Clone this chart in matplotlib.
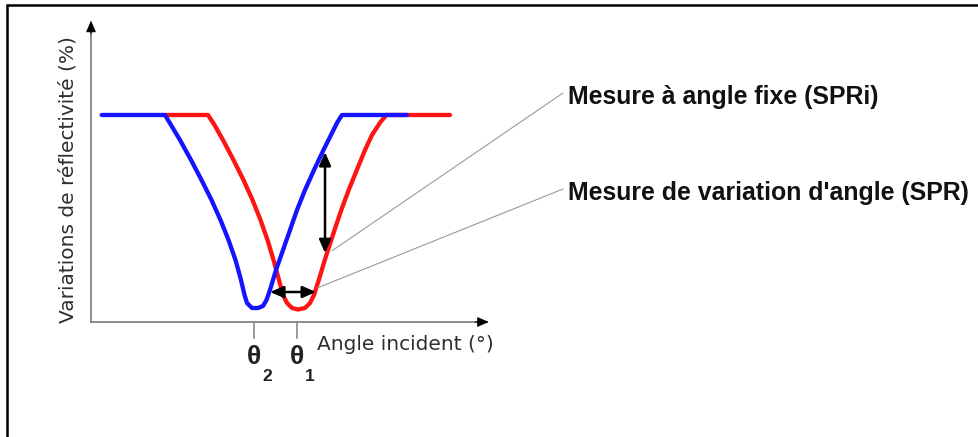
import matplotlib
matplotlib.use("Agg")
import matplotlib.pyplot as plt
from matplotlib.patches import Rectangle

W, H = 979, 437

# reflectivity curves (angle in arbitrary units, reflectivity in %)
blue_angle = [2.73, 18.88, 20.41, 22.70, 25.51, 28.19, 30.74, 33.04, 35.08,
              36.86, 38.27, 39.16, 39.80, 41.07, 42.60, 43.88, 44.77, 45.66,
              47.19, 48.98, 50.77, 52.55, 54.59, 56.89, 59.31, 61.22, 62.88,
              64.03, 80.54]
blue_refl = [69.70, 69.70, 66.33, 61.28, 54.55, 47.81, 41.08, 34.34, 27.61,
             20.88, 14.14, 9.09, 6.40, 4.71, 4.71, 5.39, 7.41, 10.77,
             17.51, 24.24, 30.98, 37.71, 44.44, 51.18, 57.91, 62.96, 67.34,
             69.70, 69.70]

red_angle = [18.88, 29.85, 31.51, 33.67, 36.35, 38.90, 41.20, 43.24, 45.03,
             46.56, 47.96, 48.98, 50.00, 51.28, 52.81, 54.59, 55.87, 56.89,
             58.11, 59.64, 60.46, 62.12, 63.85, 65.74, 67.81, 69.90, 71.68,
             73.85, 75.38, 91.58]
red_refl = [69.70, 69.70, 66.33, 61.28, 54.55, 47.81, 41.08, 34.34, 27.61,
            20.88, 14.14, 9.09, 6.40, 4.71, 4.21, 4.71, 6.40, 9.09,
            14.14, 20.88, 24.24, 30.98, 37.71, 44.44, 51.18, 57.91, 62.96,
            67.34, 69.70, 69.70]

theta_pos = [41.6, 52.6]
theta_sub = ["2", "1"]

# fixed-angle shift (vertical) and angle shift (horizontal)
fixed_x, fixed_y = 59.7, (57.2, 23.2)
shift_y, shift_x = 10.1, (45.7, 57.4)

labels = ["Mesure à angle fixe (SPRi)", "Mesure de variation d'angle (SPR)"]
label_from = [(61.5, 24.0), (57.6, 11.4)]
label_px = [(568, 97), (568, 193)]

fig = plt.figure(figsize=(W / 100, H / 100), dpi=100)
fig.patch.set_facecolor("white")

# outer frame
fig.patches.append(Rectangle((7.5 / W, -0.05), 1.1, 1 - 4.5 / H + 0.05,
                             transform=fig.transFigure, fill=False,
                             edgecolor="black", lw=1.8, clip_on=False))

ax = fig.add_axes([91 / W, (H - 322) / H, 392 / W, 297 / H])
ax.set_xlim(0, 100)
ax.set_ylim(0, 100)
ax.axis("off")

# axes with arrow heads
axis_col = "#7a7a7a"
ax.plot([0, 100], [0, 0], color=axis_col, lw=1.2, clip_on=False)
ax.plot([0, 0], [0, 100], color=axis_col, lw=1.2, clip_on=False)
head = dict(arrowstyle="-|>,head_length=0.7,head_width=0.3", color="black",
            lw=0.8, shrinkA=0, shrinkB=0)
ax.annotate("", xy=(101.5, 0), xytext=(98, 0), arrowprops=head,
            annotation_clip=False)
ax.annotate("", xy=(0, 101.5), xytext=(0, 97), arrowprops=head,
            annotation_clip=False)

ax.plot(red_angle, red_refl, color="#ff1414", lw=3.1,
        solid_joinstyle="round", solid_capstyle="round", clip_on=False)
ax.plot(blue_angle, blue_refl, color="#1414ff", lw=3.1,
        solid_joinstyle="round", solid_capstyle="round", clip_on=False)

# theta markers below the x axis
for x, s in zip(theta_pos, theta_sub):
    ax.plot([x, x], [0, -5.5], color="#8a8a8a", lw=1.2, clip_on=False)
    ax.text(x, -11.8, "θ", fontsize=19, fontweight="bold", ha="center",
            va="center", color="#222222", family="Liberation Sans")
    ax.text(x + 3.3, -18.4, s, fontsize=12.5, fontweight="bold",
            ha="center", va="center", color="#222222",
            family="Liberation Sans")

dbl = dict(arrowstyle="<|-|>,head_length=0.8,head_width=0.35",
           color="black", lw=1.8, shrinkA=0, shrinkB=0)
ax.annotate("", xy=(fixed_x, fixed_y[0]), xytext=(fixed_x, fixed_y[1]),
            arrowprops=dbl)
ax.annotate("", xy=(shift_x[0], shift_y), xytext=(shift_x[1], shift_y),
            arrowprops=dbl)

# leader lines and labels
for txt, src, (px, py) in zip(labels, label_from, label_px):
    ax.annotate("", xy=src, xytext=(px - 5, H - py + 4),
                textcoords="figure pixels", annotation_clip=False,
                arrowprops=dict(arrowstyle="-", color="#9a9a9a", lw=0.8,
                                shrinkA=0, shrinkB=0))
    fig.text(px / W, 1 - py / H, txt, fontsize=17.9, fontweight="bold",
             family="Liberation Sans", color="#111111", va="center",
             ha="left")

ax.text(-5.8, 47.8, "Variations de réflectivité (%)", rotation=90,
        fontsize=14.5, ha="center", va="center", color="#2e2e2e",
        family="DejaVu Sans")
fig.text(317 / W, 1 - 345 / H, "Angle incident (°)", fontsize=14.5,
         ha="left", va="center", color="#2e2e2e", family="DejaVu Sans")

fig.savefig("out.png", dpi=100, facecolor="white")
